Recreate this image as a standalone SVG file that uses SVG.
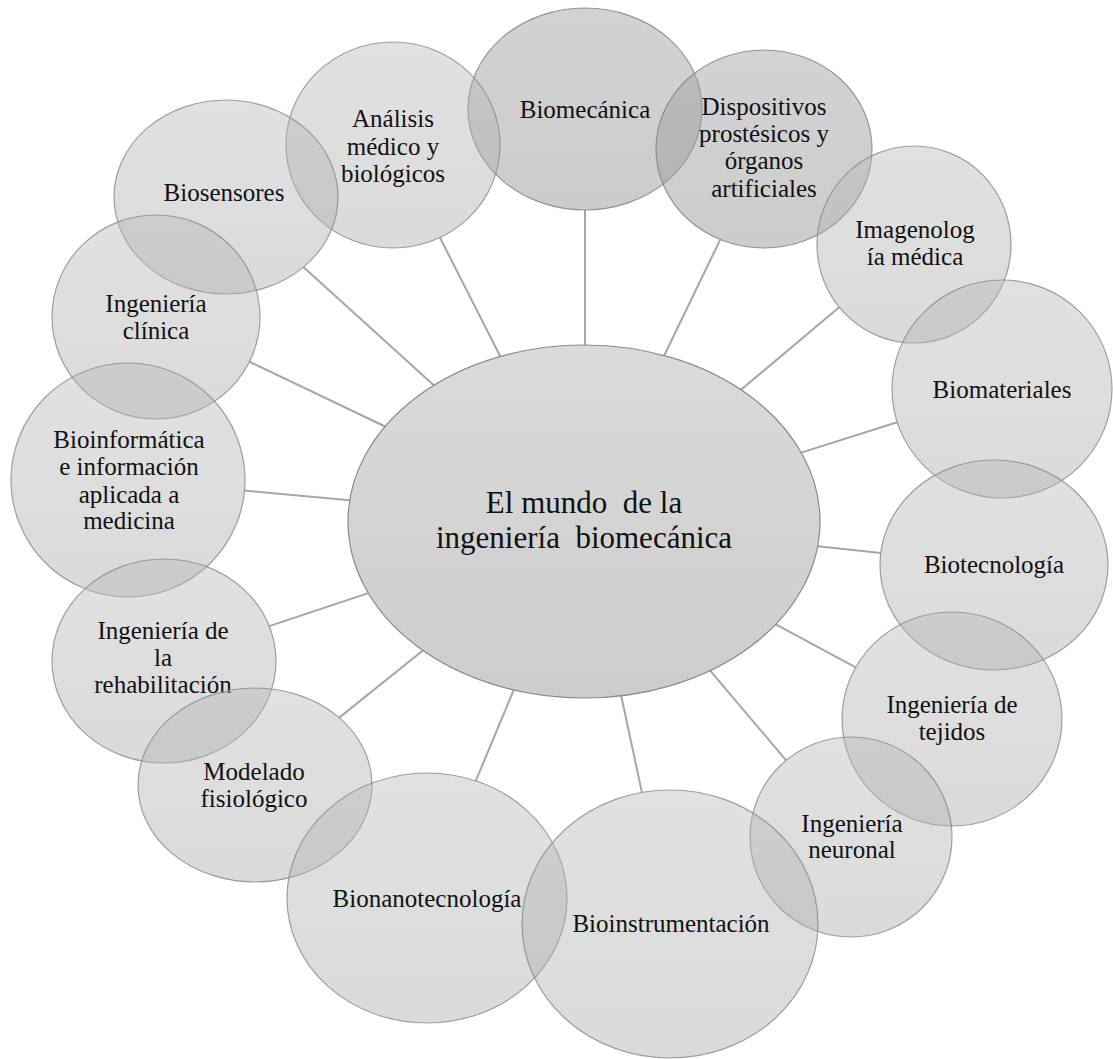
<svg xmlns="http://www.w3.org/2000/svg" width="1113" height="1059" viewBox="0 0 1113 1059">
<defs>
<linearGradient id="gl" x1="0" y1="0" x2="0" y2="1"><stop offset="0" stop-color="#b8b8b8"/><stop offset="1" stop-color="#a8a8a8"/></linearGradient>
<linearGradient id="gd" x1="0" y1="0" x2="0" y2="1"><stop offset="0" stop-color="#a6a6a6"/><stop offset="1" stop-color="#9a9a9a"/></linearGradient>
<linearGradient id="gc" x1="0" y1="0" x2="0" y2="1"><stop offset="0" stop-color="#dadada"/><stop offset="1" stop-color="#cdcdcd"/></linearGradient>
</defs>
<style>
.n{fill:url(#gl);fill-opacity:0.42;stroke:#8a8a8a;stroke-opacity:0.8;stroke-width:1.2}
.d{fill:url(#gd);fill-opacity:0.5;stroke:#808080;stroke-opacity:0.8;stroke-width:1.2}
.c{fill:url(#gc);stroke:#8a8a8a;stroke-width:1.2}
.t{font-family:"Liberation Serif","Times New Roman",serif;font-size:25px;fill:#111;text-anchor:middle}
.ct{font-family:"Liberation Serif","Times New Roman",serif;font-size:31px;fill:#111;text-anchor:middle;white-space:pre}
#connectors line{stroke:#a6a6a6;stroke-width:2}
</style>
<rect width="1113" height="1059" fill="#ffffff"/>
<g id="connectors">
<line x1="585" y1="345" x2="585" y2="210"/>
<line x1="500.3" y1="356.5" x2="439.9" y2="237.5"/>
<line x1="664.2" y1="355.5" x2="720.3" y2="239.5"/>
<line x1="433.8" y1="385.3" x2="303.4" y2="267.1"/>
<line x1="741" y1="389.7" x2="839.2" y2="307.3"/>
<line x1="385.1" y1="426.5" x2="249.5" y2="361.7"/>
<line x1="801.3" y1="452.6" x2="897.2" y2="422.2"/>
<line x1="349.7" y1="500.2" x2="244.5" y2="490.6"/>
<line x1="817.7" y1="546.3" x2="880.8" y2="553"/>
<line x1="368.3" y1="593.1" x2="269.2" y2="626.1"/>
<line x1="775.8" y1="624.4" x2="855.7" y2="667.3"/>
<line x1="422.9" y1="650.5" x2="339.2" y2="717.6"/>
<line x1="710.2" y1="670.6" x2="786.1" y2="760.3"/>
<line x1="513.7" y1="690" x2="475.8" y2="780.9"/>
<line x1="621.2" y1="695.8" x2="641.9" y2="792.4"/>
</g>
<g id="center">
<ellipse class="c" cx="584" cy="521.5" rx="236" ry="176.5"/>
<text class="ct" xml:space="preserve"><tspan x="584" y="513">El mundo  de la</tspan><tspan x="584" y="548">ingeniería  biomecánica</tspan></text>
</g>
<g id="biomecanica">
<ellipse class="d" cx="585" cy="109" rx="117" ry="101"/>
<text class="t" x="585" y="118">Biomecánica</text>
</g>
<g id="analisis">
<ellipse class="n" cx="393" cy="145" rx="107" ry="103"/>
<text class="t"><tspan x="393" y="127">Análisis</tspan><tspan x="393" y="155">médico y</tspan><tspan x="393" y="182">biológicos</tspan></text>
</g>
<g id="dispositivos">
<ellipse class="d" cx="764" cy="149" rx="108" ry="99"/>
<text class="t"><tspan x="764" y="115">Dispositivos</tspan><tspan x="764" y="142">prostésicos y</tspan><tspan x="764" y="169">órganos</tspan><tspan x="764" y="197">artificiales</tspan></text>
</g>
<g id="biosensores">
<ellipse class="n" cx="226" cy="197" rx="112" ry="97"/>
<text class="t" x="224" y="201">Biosensores</text>
</g>
<g id="imagenologia">
<ellipse class="n" cx="914" cy="244.5" rx="97" ry="98.5"/>
<text class="t"><tspan x="915" y="238">Imagenolog</tspan><tspan x="915" y="265">ía médica</tspan></text>
</g>
<g id="clinica">
<ellipse class="n" cx="156" cy="317" rx="104" ry="102"/>
<text class="t"><tspan x="156" y="312">Ingeniería</tspan><tspan x="156" y="339">clínica</tspan></text>
</g>
<g id="biomateriales">
<ellipse class="n" cx="1002" cy="389" rx="110" ry="109"/>
<text class="t" x="1002" y="398">Biomateriales</text>
</g>
<g id="bioinformatica">
<ellipse class="n" cx="128" cy="480" rx="117" ry="117"/>
<text class="t"><tspan x="129" y="448">Bioinformática</tspan><tspan x="129" y="475">e información</tspan><tspan x="129" y="503">aplicada a</tspan><tspan x="129" y="529">medicina</tspan></text>
</g>
<g id="biotecnologia">
<ellipse class="n" cx="994" cy="565" rx="114" ry="105"/>
<text class="t" x="994" y="573">Biotecnología</text>
</g>
<g id="rehabilitacion">
<ellipse class="n" cx="164" cy="661" rx="112" ry="102"/>
<text class="t"><tspan x="163" y="639">Ingeniería de</tspan><tspan x="163" y="666">la</tspan><tspan x="163" y="693">rehabilitación</tspan></text>
</g>
<g id="tejidos">
<ellipse class="n" cx="952" cy="719" rx="110" ry="107"/>
<text class="t"><tspan x="952" y="713">Ingeniería de</tspan><tspan x="952" y="740">tejidos</tspan></text>
</g>
<g id="modelado">
<ellipse class="n" cx="255" cy="785" rx="117" ry="97"/>
<text class="t"><tspan x="254" y="780">Modelado</tspan><tspan x="254" y="807">fisiológico</tspan></text>
</g>
<g id="neuronal">
<ellipse class="n" cx="851" cy="837" rx="101" ry="100"/>
<text class="t"><tspan x="852" y="832">Ingeniería</tspan><tspan x="852" y="858">neuronal</tspan></text>
</g>
<g id="bionanotecnologia">
<ellipse class="n" cx="427" cy="898" rx="140" ry="125"/>
<text class="t" x="427" y="907">Bionanotecnología</text>
</g>
<g id="bioinstrumentacion">
<ellipse class="n" cx="670" cy="924" rx="148" ry="134"/>
<text class="t" x="671" y="932">Bioinstrumentación</text>
</g>
</svg>
